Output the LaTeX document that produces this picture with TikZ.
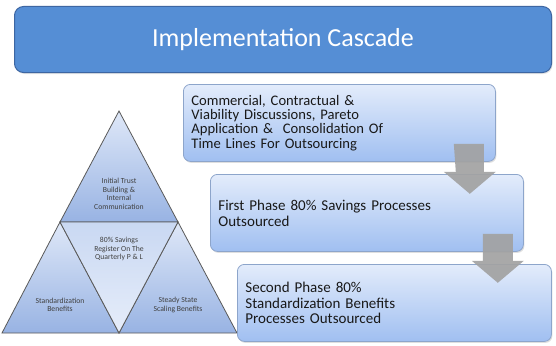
\documentclass[tikz,border=0pt]{standalone}
\usepackage{fontspec}
\setmainfont{Carlito}
\usetikzlibrary{calc,shadows}

\definecolor{titleblue}{HTML}{558ED5}
\definecolor{titleedge}{HTML}{3D66A2}
\definecolor{boxtop}{HTML}{E3ECFB}
\definecolor{boxbot}{HTML}{A0BFF1}
\definecolor{boxedge}{HTML}{8DA5CB}
\definecolor{tritop}{HTML}{DFE8F8}
\definecolor{tribot}{HTML}{98B3E3}
\definecolor{midtop}{HTML}{C9D8F2}
\definecolor{midbot}{HTML}{E6EDFA}
\definecolor{arrowgray}{HTML}{A2A2A2}

\tikzset{
    phasebox/.style={draw=boxedge, line width=0.8pt, rounded corners=7pt,
        top color=boxtop, bottom color=boxbot, anchor=north west,
        minimum height=77pt, inner xsep=8pt, align=left, text=black!90,
        drop shadow={opacity=0.25, shadow xshift=1pt, shadow yshift=-1.5pt}},
    tritext/.style={align=center, font=\fontsize{7.7}{8.6}\selectfont, text=black!75},
    triedge/.style={draw=black!65, line width=0.8pt},
    blockarrow/.style={fill=arrowgray, fill opacity=0.92},
}

\begin{document}
\begin{tikzpicture}[x=1pt,y=-1pt]
    \useasboundingbox [fill=white] (0,0) rectangle (556,345);

    % title bar
    \node [draw=titleedge, line width=1pt, fill=titleblue, rounded corners=9pt,
        anchor=north west, minimum width=537pt, minimum height=66pt, text=white,
        font=\fontsize{26}{30}\selectfont,
        drop shadow={opacity=0.2, shadow xshift=1pt, shadow yshift=-1.5pt}]
        (title) at (14,6) {Implementation Cascade};

    % pyramid
    \coordinate (tip) at (119,111);
    \coordinate (midL) at (60,222);
    \coordinate (midR) at (178,222);
    \coordinate (baseL) at (2,333);
    \coordinate (baseM) at (119,333);
    \coordinate (baseR) at (237,333);
    \draw [triedge, top color=tritop, bottom color=tribot] (tip) -- (midR) -- (midL) -- cycle;
    \draw [triedge, top color=tritop, bottom color=tribot] (midL) -- (baseM) -- (baseL) -- cycle;
    \draw [triedge, top color=tritop, bottom color=tribot] (midR) -- (baseR) -- (baseM) -- cycle;
    \draw [triedge, top color=midtop, bottom color=midbot] (midL) -- (midR) -- (baseM) -- cycle;

    \node [tritext] (trust) at (119,194) {Initial Trust\\Building \&\\Internal\\Communication};
    \node [tritext] (savings) at (119,249) {80\% Savings\\Register On The\\Quarterly P \& L};
    \node [tritext] (standard) at (60,305) {Standardization\\Benefits};
    \node [tritext] (steady) at (178,305) {Steady State\\Scaling Benefits};

    % cascade of phases
    \node [phasebox, text width=296pt, font=\fontsize{14.6}{14.3}\selectfont] (stepA) at (183,84)
        {Commercial, Contractual \&\\Viability Discussions, Pareto\\Application \& ~Consolidation Of\\Time Lines For Outsourcing};
    \node [phasebox, text width=297pt, font=\fontsize{15}{16}\selectfont] (stepB) at (210,174)
        {First Phase 80\% Savings Processes\\Outsourced};
    \node [phasebox, text width=298pt, font=\fontsize{15}{15.3}\selectfont] (stepC) at (237,264)
        {Second Phase 80\%\\Standardization Benefits\\Processes Outsourced};

    \fill [blockarrow] ($(stepA.south east)+(-42,-18)$) -- ++(30,0) -- ++(0,28) -- ++(12,0)
        -- ++(-26,22) -- ++(-26,-22) -- ++(12,0) -- cycle;
    \fill [blockarrow] ($(stepB.south east)+(-41,-18)$) -- ++(30,0) -- ++(0,27) -- ++(11,0)
        -- ++(-26,22) -- ++(-26,-22) -- ++(11,0) -- cycle;
\end{tikzpicture}
\end{document}
